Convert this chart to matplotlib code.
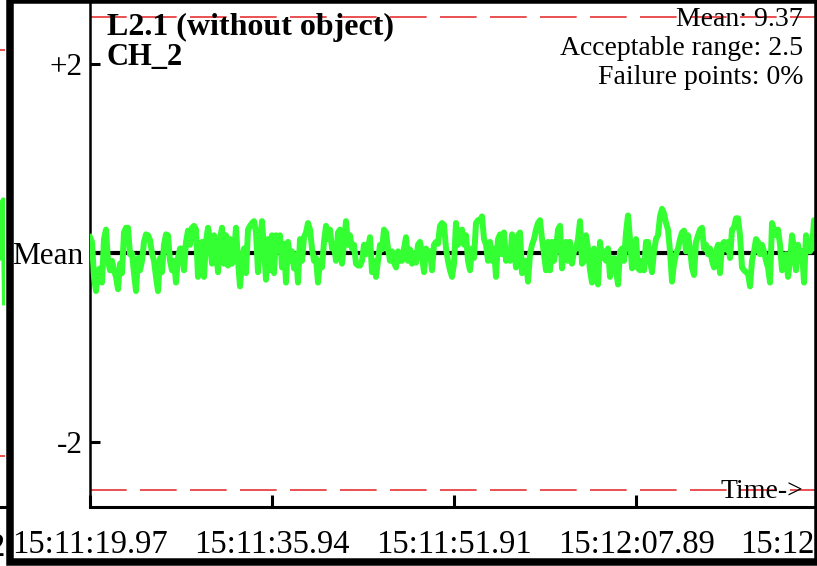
import numpy as np
import matplotlib
matplotlib.use("Agg")
import matplotlib.pyplot as plt
from matplotlib.patches import Rectangle

plt.rcParams['font.family'] = ['Liberation Serif', 'DejaVu Serif']

# channel deviation from the mean, one sample every dt seconds
dt = 0.1755
deviation = [
    0.17, 0.12, -0.25, -0.40, -0.18, -0.16, -0.31, 0.15, 0.25, -0.08, -0.18, -0.08, -0.18, -0.25, -0.38, -0.11,
    -0.21, 0.22, 0.27, 0.27, -0.01, 0.00, -0.21, -0.40, -0.05, -0.18, -0.08, 0.12, 0.20, 0.19, 0.14, 0.00,
    -0.08, -0.25, -0.40, -0.05, -0.20, 0.09, 0.20, 0.19, -0.08, -0.18, -0.08, -0.31, -0.05, 0.05, 0.05, -0.18,
    0.12, 0.24, 0.09, 0.27, 0.29, 0.25, -0.25, 0.02, 0.12, -0.25, 0.12, 0.27, 0.12,
    -0.11, 0.19, 0.05, -0.20, 0.15, 0.27, -0.11, 0.19, -0.13, 0.15, -0.11, -0.01, 0.27, -0.08, -0.35, -0.08,
    0.05, -0.21, 0.25, 0.29, 0.32, 0.34, 0.22, -0.20, 0.12, 0.34, 0.05, -0.28, 0.15, -0.18, 0.19, -0.21,
    0.19, 0.09, 0.19, -0.15, 0.10, -0.31, 0.12, -0.08, 0.02, -0.16, -0.01, -0.31, 0.15, -0.08, 0.17, 0.22,
    0.32, 0.25, 0.05, -0.08, -0.05, -0.31, -0.08, -0.15, 0.12, 0.29, 0.15, 0.25, 0.05,
    0.09, -0.08, 0.22, 0.25, -0.11, 0.12, 0.34, 0.09, 0.19, 0.05, 0.09, -0.11, -0.13, -0.13, -0.08, 0.09,
    -0.01, 0.05, 0.17, -0.20, -0.08, -0.25, -0.08, 0.09, 0.04, 0.25, 0.22, 0.05, -0.08, 0.02, -0.10, -0.15,
    0.02, -0.08, -0.08, 0.05, 0.17, -0.08, 0.04, -0.11, 0.00, -0.10, 0.09, 0.12, -0.03, -0.20, 0.05, -0.01,
    0.02, -0.18, 0.09, 0.12, 0.10, 0.29, 0.32, 0.30, 0.05, -0.08, -0.18, -0.25, -0.11,
    0.32, 0.09, 0.22, 0.25, 0.09, 0.19, -0.08, -0.18, 0.05, -0.05, 0.32, 0.35, 0.35, 0.39, 0.15, 0.09,
    -0.08, 0.12, -0.08, 0.05, -0.25, 0.15, 0.20, -0.01, 0.22, -0.08, -0.01, -0.08, 0.20, 0.09, -0.15, 0.19,
    0.22, -0.21, -0.08, -0.08, -0.30, -0.01, 0.09, 0.15, 0.25, 0.32, 0.35, 0.15, -0.01, -0.18, 0.12, -0.18,
    0.12, -0.08, 0.05, 0.25, 0.29, -0.16, 0.05, 0.12, -0.08, 0.12, -0.11, 0.02,
    0.05, 0.15, 0.34, -0.11, -0.08, 0.19, 0.05, -0.18, -0.31, 0.05, -0.18, -0.33, 0.12, -0.05, 0.02, -0.08,
    0.05, -0.25, -0.08, -0.05, -0.18, -0.33, 0.02, 0.05, -0.08, 0.22, 0.40, 0.15, -0.16, -0.08, 0.15, -0.16,
    -0.18, -0.08, -0.18, 0.12, 0.12, -0.08, -0.20, 0.02, 0.15, 0.19, 0.39, 0.47, 0.42, 0.32, 0.25, 0.02,
    -0.30, -0.11, -0.01, 0.05, 0.15, 0.22, 0.24, 0.02, 0.19, 0.05, -0.15, -0.23,
    0.12, 0.19, 0.25, 0.27, 0.05, 0.09, -0.01, 0.05, -0.08, -0.15, 0.02, 0.09, -0.21, 0.09, 0.12, 0.04,
    0.12, -0.05, 0.25, 0.27, 0.37, 0.37, 0.19, -0.15, -0.18, -0.20, -0.21, -0.35, -0.08, 0.02, 0.15, 0.12,
    -0.01, 0.09, 0.02, -0.08, -0.15, -0.31, 0.32, 0.25, 0.19, 0.25, 0.09, -0.18, -0.08, -0.01, -0.25, -0.08,
    0.19, 0.05, -0.18, 0.09, -0.08, 0.02, -0.31, 0.19, 0.09, 0.02, 0.05, 0.35, 0.32,
]
mean_value = 9.37
accept_range = 2.5
failure_pct = 0

tick_secs = [0.0, 15.97, 31.94, 47.92, 63.89]
tick_labels = ["15:11:19.97", "15:11:35.94", "15:11:51.91", "15:12:07.89", "15:12:23.86"]

# tail of the previous panel (only its right edge shows)
prev_t = [19.0, 19.45, 19.7, 19.85, 20.0]
prev_dev = [0.0, -0.05, 0.05, 0.56, -0.52]
prev_range = 2.15

W, H = 817, 566
green = '#33ff33'
red = '#e83232'
ylo, yhi = -2.685, 2.68

fig = plt.figure(figsize=(W / 100, H / 100), dpi=100)

# previous panel, mostly off the left edge
ax0 = fig.add_axes([-200 / W, 59 / H, 205 / W, 507 / H])
ax0.plot(prev_t, prev_dev, color=green, lw=4.3, solid_joinstyle='round')
for s in (1, -1):
    ax0.axhline(s * prev_range, color=red, lw=1.2, dashes=(22, 8))
ax0.set_xlim(0, 20)
ax0.set_ylim(ylo, yhi)
for k in ('top', 'right', 'left'):
    ax0.spines[k].set_visible(False)
ax0.spines['bottom'].set_linewidth(2.2)
ax0.set_xticks([])
ax0.set_yticks([])
fig.text(5 / W, 1 - 556 / H, "2", ha='right', va='baseline', fontsize=23.5)

# main panel
px_per_s = 182.0 / 15.97
ax = fig.add_axes([90 / W, 59 / H, 800 / W, 507 / H])
t = np.arange(len(deviation)) * dt
ax.axhline(0, color='black', lw=3, zorder=2)
ax.plot(t, deviation, color=green, lw=4.3, zorder=3, solid_joinstyle='round')
for s in (1, -1):
    ax.axhline(s * accept_range, color=red, lw=1.2, dashes=(22, 8), zorder=1)
ax.set_xlim(0, 800 / px_per_s)
ax.set_ylim(ylo, yhi)
ax.set_xticks(tick_secs)
ax.set_xticklabels(tick_labels)
ax.set_yticks([2, 0, -2])
ax.set_yticklabels(["+2", "Mean", "-2"])
ax.tick_params(axis='x', direction='in', length=9, width=2.2, labelsize=23.5, pad=16)
ax.tick_params(axis='y', direction='in', length=7, width=2.2, labelsize=22.5, pad=5)
ax.spines['top'].set_visible(False)
ax.spines['right'].set_visible(False)
ax.spines['left'].set_linewidth(1.8)
ax.spines['bottom'].set_linewidth(2.2)

fig.text(107 / W, 1 - 35 / H, "L2.1 (without object)", fontsize=23, fontweight='bold', va='baseline')
fig.text(107 / W, 1 - 65 / H, "CH_2", fontsize=22, fontweight='bold', va='baseline')
info = ["Mean: %.2f" % mean_value, "Acceptable range: %g" % accept_range, "Failure points: %d%%" % failure_pct]
for i, line in enumerate(info):
    fig.text(803 / W, 1 - (26 + 29 * i) / H, line, fontsize=20, ha='right', va='baseline')
fig.text(803 / W, 1 - 498 / H, "Time->", fontsize=20, ha='right', va='baseline')

# thick frame round the panel
fig.add_artist(Rectangle((9.5 / W, 4 / H), 808.5 / W, 562 / H, transform=fig.transFigure,
                         fill=False, lw=5.4, edgecolor='black', clip_on=False, zorder=5))

fig.savefig('out.png', dpi=100)
